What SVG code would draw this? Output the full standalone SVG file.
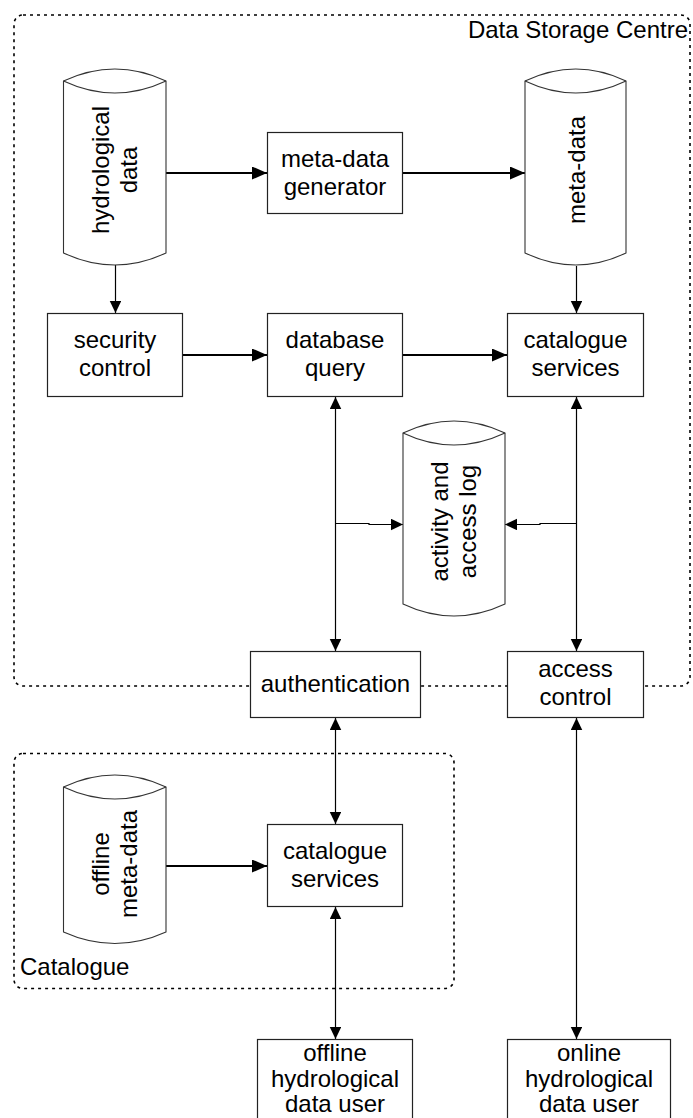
<svg xmlns="http://www.w3.org/2000/svg" width="693" height="1118" viewBox="0 0 693 1118">
<style>
text{font-family:"Liberation Sans",Arial,sans-serif;font-size:24px;fill:#000;text-anchor:middle}
.box{fill:#fff;stroke:#222;stroke-width:1.2}
.cyl{fill:#fff;stroke:#333;stroke-width:1.1}
.lens{fill:none;stroke:#333;stroke-width:1.1}
.grp{fill:none;stroke:#000;stroke-width:1.6;stroke-dasharray:3 4}
.thick{fill:none;stroke:#000;stroke-width:2;marker-end:url(#big)}
.thin{fill:none;stroke:#000;stroke-width:1.2;marker-end:url(#small)}
.both{fill:none;stroke:#000;stroke-width:1.2;marker-end:url(#small);marker-start:url(#small)}
.lbl{text-anchor:start}
.lblr{text-anchor:end}
</style>
<defs>
<marker id="big" markerUnits="userSpaceOnUse" markerWidth="15" markerHeight="13" refX="15" refY="6.5" orient="auto-start-reverse"><path d="M0,0 L15,6.5 L0,13 Z" fill="#000"/></marker>
<marker id="small" markerUnits="userSpaceOnUse" markerWidth="12" markerHeight="12" refX="12" refY="5.75" orient="auto-start-reverse"><path d="M0,0 L12,5.75 L0,11.5 Z" fill="#000"/></marker>
</defs>

<g id="data-storage-centre">
<rect class="grp" x="14" y="15" width="676" height="671" rx="9" ry="9"/>
<text class="lblr" x="688" y="38">Data Storage Centre</text>
</g>
<g id="catalogue-group">
<rect class="grp" x="14" y="753.5" width="440" height="235" rx="9" ry="9"/>
<text class="lbl" x="20" y="975">Catalogue</text>
</g>

<g id="connectors">
<line class="thick" x1="166" y1="173" x2="267" y2="173"/>
<line class="thick" x1="403" y1="173" x2="525" y2="173"/>
<line class="thick" x1="182" y1="355" x2="267" y2="355"/>
<line class="thick" x1="403" y1="355" x2="507" y2="355"/>
<line class="thick" x1="166" y1="866" x2="267" y2="866"/>
<line class="thin" x1="115.5" y1="265" x2="115.5" y2="313"/>
<line class="thin" x1="576.5" y1="266" x2="576.5" y2="313"/>
<line class="both" x1="335.5" y1="397" x2="335.5" y2="651"/>
<line class="both" x1="576.5" y1="397" x2="576.5" y2="651"/>
<polyline class="thin" points="335.5,523.5 369,523.5 369,524.5 403,524.5"/>
<polyline class="thin" points="576.5,523.5 540,523.5 540,524.5 505,524.5"/>
<line class="both" x1="335.5" y1="718" x2="335.5" y2="824"/>
<line class="both" x1="335.5" y1="907" x2="335.5" y2="1039"/>
<line class="both" x1="576.5" y1="718" x2="576.5" y2="1039"/>
</g>

<g id="hydrological-data">
<path class="cyl" d="M63.5,81 Q115,57 166,81 L166,253 Q115,277 63.5,253 Z"/>
<path class="lens" d="M63.5,81 Q115,105 166,81"/>
<g transform="translate(115,170) rotate(-90)"><text x="0" y="-6.2">hydrological</text><text x="0" y="21.5">data</text></g>
</g>

<g id="meta-data">
<path class="cyl" d="M525,81 Q576,57 626,81 L626,253 Q576,277 525,253 Z"/>
<path class="lens" d="M525,81 Q576,105 626,81"/>
<g transform="translate(576,170) rotate(-90)"><text x="0" y="9">meta-data</text></g>
</g>

<g id="activity-log">
<path class="cyl" d="M403,433 Q454,409 505,433 L505,604 Q454,628 403,604 Z"/>
<path class="lens" d="M403,433 Q454,457 505,433"/>
<g transform="translate(454,521.5) rotate(-90)"><text x="0" y="-6.2">activity and</text><text x="0" y="21.5">access log</text></g>
</g>

<g id="offline-meta-data">
<path class="cyl" d="M63.5,787 Q115,763 166,787 L166,932 Q115,955 63.5,932 Z"/>
<path class="lens" d="M63.5,787 Q115,811 166,787"/>
<g transform="translate(115,864) rotate(-90)"><text x="0" y="-6.2">offline</text><text x="0" y="21.5">meta-data</text></g>
</g>

<g id="meta-data-generator">
<rect class="box" x="267.5" y="132.5" width="135" height="81"/>
<text x="335" y="166.8">meta-data</text><text x="335" y="194.5">generator</text>
</g>
<g id="security-control">
<rect class="box" x="47.5" y="313.5" width="135" height="83"/>
<text x="115" y="348.3">security</text><text x="115" y="376">control</text>
</g>
<g id="database-query">
<rect class="box" x="267.5" y="313.5" width="135" height="83"/>
<text x="335" y="348.3">database</text><text x="335" y="376">query</text>
</g>
<g id="catalogue-services-top">
<rect class="box" x="507.5" y="313.5" width="136" height="83"/>
<text x="575.5" y="348.3">catalogue</text><text x="575.5" y="376">services</text>
</g>
<g id="authentication">
<rect class="box" x="250.5" y="651.5" width="170" height="66"/>
<text x="335.5" y="692">authentication</text>
</g>
<g id="access-control">
<rect class="box" x="507.5" y="651.5" width="136" height="66"/>
<text x="575.5" y="677">access</text><text x="575.5" y="704.5">control</text>
</g>
<g id="catalogue-services-bottom">
<rect class="box" x="267.5" y="824.5" width="135" height="82"/>
<text x="335" y="859">catalogue</text><text x="335" y="886.7">services</text>
</g>
<g id="offline-user">
<rect class="box" x="257.5" y="1039.5" width="155" height="100"/>
<text x="335" y="1060.5">offline</text><text x="335" y="1086.5">hydrological</text><text x="335" y="1112">data user</text>
</g>
<g id="online-user">
<rect class="box" x="507.5" y="1039.5" width="163" height="100"/>
<text x="589" y="1060.5">online</text><text x="589" y="1086.5">hydrological</text><text x="589" y="1112">data user</text>
</g>
</svg>
